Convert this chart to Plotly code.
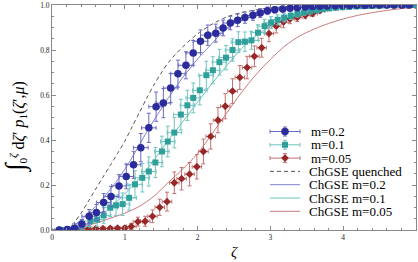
import plotly.graph_objects as go

# ---------------- data ----------------
# lattice data, m = 0.2
x_m02 = [0.10, 0.21, 0.31, 0.41, 0.51, 0.61, 0.71, 0.81, 0.92, 1.02, 1.12, 1.22, 1.33, 1.43, 1.53, 1.63,
         1.73, 1.84, 1.94, 2.04, 2.14, 2.25, 2.35, 2.45, 2.55, 2.65, 2.76, 2.86, 2.96, 3.06, 3.17, 3.27,
         3.37, 3.48, 3.58, 3.68, 3.78, 3.89, 3.99, 4.09, 4.19, 4.30, 4.40, 4.50, 4.60, 4.70, 4.81, 4.91]
y_m02 = [0.000, 0.002, 0.008, 0.027, 0.061, 0.078, 0.122, 0.149, 0.196, 0.238, 0.290, 0.366, 0.454, 0.548, 0.564, 0.631,
         0.695, 0.732, 0.787, 0.839, 0.866, 0.875, 0.898, 0.920, 0.932, 0.944, 0.954, 0.964, 0.975, 0.979, 0.982, 0.986,
         0.988, 0.991, 0.993, 0.995, 0.996, 0.997, 0.998, 0.998, 0.999, 0.999, 1.000, 1.000, 1.000, 1.000, 1.000, 1.000]
ey_m02 = [0.004, 0.005, 0.008, 0.020, 0.030, 0.035, 0.040, 0.045, 0.050, 0.055, 0.060, 0.063, 0.065, 0.065, 0.065, 0.065,
          0.060, 0.060, 0.055, 0.050, 0.045, 0.040, 0.035, 0.030, 0.028, 0.025, 0.022, 0.020, 0.016, 0.014, 0.012, 0.010,
          0.009, 0.008, 0.007, 0.006, 0.005, 0.004, 0.004, 0.003, 0.003, 0.002, 0.002, 0.002, 0.001, 0.001, 0.001, 0.001]
ex_m02 = 0.10

# lattice data, m = 0.1
x_m01 = [0.14, 0.23, 0.32, 0.41, 0.53, 0.62, 0.71, 0.80, 0.88, 0.97, 1.06, 1.14, 1.24, 1.33, 1.42, 1.51,
         1.59, 1.68, 1.77, 1.86, 1.94, 2.03, 2.12, 2.21, 2.30, 2.39, 2.48, 2.56, 2.65, 2.74, 2.83, 2.92,
         3.01, 3.10, 3.19, 3.28, 3.37, 3.46, 3.55, 3.64, 3.72, 3.81, 3.90, 3.99, 4.08, 4.17, 4.26, 4.35,
         4.44, 4.53, 4.62, 4.70, 4.79, 4.88, 4.97]
y_m01 = [0.000, 0.002, 0.006, 0.016, 0.040, 0.046, 0.065, 0.099, 0.110, 0.115, 0.143, 0.203, 0.232, 0.260, 0.300, 0.349,
         0.393, 0.433, 0.513, 0.554, 0.587, 0.621, 0.688, 0.710, 0.746, 0.766, 0.800, 0.835, 0.837, 0.843, 0.877, 0.906,
         0.922, 0.934, 0.944, 0.952, 0.960, 0.966, 0.972, 0.977, 0.981, 0.985, 0.988, 0.990, 0.992, 0.994, 0.995, 0.996,
         0.997, 0.998, 0.999, 0.999, 1.000, 1.000, 1.000]
ey_m01 = [0.003, 0.005, 0.008, 0.015, 0.025, 0.030, 0.035, 0.040, 0.045, 0.050, 0.055, 0.060, 0.063, 0.065, 0.067, 0.068,
          0.068, 0.068, 0.068, 0.067, 0.066, 0.065, 0.062, 0.060, 0.057, 0.054, 0.050, 0.046, 0.043, 0.040, 0.035, 0.030,
          0.026, 0.022, 0.019, 0.016, 0.014, 0.012, 0.010, 0.009, 0.008, 0.007, 0.006, 0.005, 0.004, 0.004, 0.003, 0.003,
          0.002, 0.002, 0.002, 0.001, 0.001, 0.001, 0.001]
ex_m01 = 0.10

# lattice data, m = 0.05
x_m005 = [0.10, 0.20, 0.30, 0.39, 0.50, 0.60, 0.70, 0.80, 0.90, 1.00, 1.09, 1.18, 1.28, 1.38, 1.48, 1.58,
          1.68, 1.78, 1.89, 1.99, 2.08, 2.18, 2.28, 2.38, 2.48, 2.58, 2.68, 2.78, 2.88, 2.98, 3.08, 3.18,
          3.27, 3.37, 3.48, 3.58, 3.68, 3.78, 3.89, 3.99, 4.09, 4.19, 4.29, 4.39, 4.49, 4.59, 4.69, 4.79,
          4.89, 4.99]
y_m005 = [0.000, 0.001, 0.003, 0.004, 0.005, 0.006, 0.006, 0.007, 0.008, 0.008, 0.016, 0.037, 0.039, 0.061, 0.101, 0.126,
          0.210, 0.228, 0.248, 0.281, 0.349, 0.416, 0.488, 0.550, 0.617, 0.678, 0.722, 0.772, 0.810, 0.873, 0.906, 0.924,
          0.938, 0.945, 0.954, 0.962, 0.975, 0.987, 0.991, 0.993, 0.995, 0.996, 0.997, 0.998, 0.998, 0.999, 0.999, 1.000,
          1.000, 1.000]
ey_m005 = [0.002, 0.002, 0.003, 0.004, 0.005, 0.006, 0.006, 0.007, 0.008, 0.010, 0.013, 0.020, 0.022, 0.028, 0.036, 0.042,
           0.048, 0.050, 0.052, 0.054, 0.055, 0.056, 0.056, 0.056, 0.055, 0.053, 0.050, 0.046, 0.042, 0.036, 0.030, 0.025,
           0.021, 0.018, 0.015, 0.012, 0.010, 0.008, 0.006, 0.005, 0.004, 0.003, 0.003, 0.002, 0.002, 0.002, 0.001, 0.001,
           0.001, 0.001]
ex_m005 = 0.065

# ChGSE theory curves
x_q = [0.0, 0.1, 0.2, 0.3, 0.4, 0.5, 0.6, 0.7, 0.8, 0.9, 1.0, 1.1, 1.2, 1.3, 1.4, 1.5, 1.6, 1.7, 1.8, 1.9,
       2.0, 2.2, 2.4, 2.6, 2.8, 3.0, 3.25, 3.5, 4.0, 4.5, 5.0]
y_q = [0.0, 0.0, 0.006, 0.032, 0.075, 0.128, 0.182, 0.235, 0.287, 0.340, 0.395, 0.458, 0.522, 0.585, 0.645, 0.698,
       0.745, 0.782, 0.815, 0.845, 0.872, 0.915, 0.947, 0.966, 0.978, 0.987, 0.993, 0.996, 0.999, 1.0, 1.0]

x_t02 = [0.0, 0.1, 0.2, 0.3, 0.4, 0.5, 0.6, 0.7, 0.8, 0.9, 1.0, 1.1, 1.2, 1.3, 1.4, 1.5, 1.6, 1.7, 1.8, 1.9,
         2.0, 2.1, 2.2, 2.3, 2.4, 2.5, 2.6, 2.8, 3.0, 3.25, 3.5, 4.0, 4.5, 5.0]
y_t02 = [0.0, 0.0, 0.005, 0.02, 0.045, 0.075, 0.105, 0.14, 0.18, 0.222, 0.27, 0.322, 0.378, 0.435, 0.488, 0.538,
         0.588, 0.635, 0.68, 0.72, 0.76, 0.795, 0.83, 0.865, 0.895, 0.92, 0.94, 0.965, 0.98, 0.99, 0.995, 0.999, 1.0, 1.0]

x_t01 = [0.0, 0.2, 0.4, 0.6, 0.8, 1.0, 1.2, 1.4, 1.6, 1.8, 2.0, 2.2, 2.4, 2.6, 2.8, 3.0, 3.2, 3.5, 4.0, 4.5, 5.0]
y_t01 = [0.0, 0.002, 0.015, 0.045, 0.100, 0.160, 0.230, 0.310, 0.400, 0.482, 0.568, 0.652, 0.730, 0.805, 0.862,
         0.905, 0.935, 0.965, 0.988, 0.997, 1.0]

x_t005 = [0.0, 0.2, 0.4, 0.6, 0.8, 1.0, 1.2, 1.4, 1.6, 1.8, 2.0, 2.2, 2.4, 2.6, 2.8, 3.0, 3.2, 3.4, 3.6, 3.8,
          4.0, 4.2, 4.4, 4.6, 4.8, 5.0]
y_t005 = [0.0, 0.001, 0.012, 0.030, 0.052, 0.075, 0.105, 0.150, 0.212, 0.272, 0.340, 0.428, 0.520, 0.610, 0.690,
          0.758, 0.818, 0.862, 0.893, 0.918, 0.938, 0.954, 0.966, 0.976, 0.984, 0.990]

legend_labels = ["m=0.2", "m=0.1", "m=0.05", "ChGSE quenched", "ChGSE m=0.2", "ChGSE m=0.1", "ChGSE m=0.05"]
x_ticks = [0, 1, 2, 3, 4, 5]
y_ticks = [0.0, 0.2, 0.4, 0.6, 0.8, 1.0]
x_title = "<i>ζ</i>"
y_title = ('<span style="font-size:27px">∫</span><sub>0</sub><sup><i>ζ</i></sup> d<i>ζ</i>′ '
           '<i>p</i><sub>1</sub>(<i>ζ</i>′,<i>μ</i>)')

# ---------------- styles ----------------
C_BLUE, C_BLUE_E, C_BLUE_L = "#2b2b9c", "#6a6ac4", "#7070d0"
C_TEAL, C_TEAL_E, C_TEAL_L = "#2f9f9b", "#70c4c0", "#55bbb6"
C_RED, C_RED_E, C_RED_L = "#982828", "#c47070", "#c46a6a"
C_DASH = "#444444"
SERIF = "Liberation Serif, Times New Roman, serif"

fig = go.Figure()

def theory(x, y, color, dash="solid", width=0.9):
    fig.add_trace(go.Scatter(x=x, y=y, mode="lines", line=dict(color=color, width=width, dash=dash, shape="spline", smoothing=0.8),
                             showlegend=False, hoverinfo="skip"))

theory(x_q, y_q, C_DASH, dash="4px,3px", width=0.9)
theory(x_t02, y_t02, C_BLUE_L)
theory(x_t01, y_t01, C_TEAL_L)
theory(x_t005, y_t005, C_RED_L)

def data(x, y, ex, ey, color, ecolor, symbol, size):
    fig.add_trace(go.Scatter(
        x=x, y=y, mode="markers",
        marker=dict(color=color, symbol=symbol, size=size, line=dict(width=0)),
        error_x=dict(type="constant", value=ex, color=ecolor, thickness=1, width=2),
        error_y=dict(type="data", array=ey, color=ecolor, thickness=1, width=2),
        showlegend=False))

data(x_m005, y_m005, ex_m005, ey_m005, C_RED, C_RED_E, "diamond", 6)
data(x_m01, y_m01, ex_m01, ey_m01, C_TEAL, C_TEAL_E, "square", 6)
data(x_m02, y_m02, ex_m02, ey_m02, C_BLUE, C_BLUE_E, "circle", 7.5)

# ---------------- manual legend (overlay axes in plot-area units) ----------------
L, R, T, B = 52, 2, 5, 32
W, H = 418, 262
pw, ph = W - L - R, H - T - B
row_px = [131.5, 144.8, 158.1, 171.4, 184.7, 198.0, 211.3]
def py(p):
    return (H - B - p) / ph
def px(p):
    return (p - L) / pw

g0, g1, gc = px(270), px(300), px(285)
glyphs = [(C_BLUE, C_BLUE_E, "circle", 7.5), (C_TEAL, C_TEAL_E, "square", 6), (C_RED, C_RED_E, "diamond", 6)]
for i, (c, ec, sym, sz) in enumerate(glyphs):
    fig.add_trace(go.Scatter(
        x=[gc], y=[py(row_px[i])], xaxis="x2", yaxis="y2", mode="markers",
        marker=dict(color=c, symbol=sym, size=sz, line=dict(width=0)),
        error_x=dict(type="constant", value=(g1 - g0) / 2, color=ec, thickness=1, width=2),
        error_y=dict(type="constant", value=4.5 / ph, color=ec, thickness=1, width=2),
        showlegend=False, hoverinfo="skip"))

line_styles = [(C_DASH, "4px,3px"), (C_BLUE_L, "solid"), (C_TEAL_L, "solid"), (C_RED_L, "solid")]
shapes = []
for j, (c, d) in enumerate(line_styles):
    yy = py(row_px[3 + j])
    shapes.append(dict(type="line", xref="x2", yref="y2", x0=g0, x1=g1, y0=yy, y1=yy,
                       line=dict(color=c, width=0.9, dash=d)))

annotations = []
for i, lab in enumerate(legend_labels):
    xt = px(309) if i < 3 else px(307)
    annotations.append(dict(x=xt, y=py(row_px[i]), xref="paper", yref="paper", text=lab, showarrow=False,
                            xanchor="left", yanchor="middle", font=dict(family=SERIF, size=13, color="black")))

# axis titles placed as annotations
annotations.append(dict(x=px(234), y=py(252), xref="paper", yref="paper", text=x_title, showarrow=False,
                        xanchor="center", yanchor="middle", font=dict(family=SERIF, size=15, color="black")))
annotations.append(dict(x=px(16), y=py(127), xref="paper", yref="paper", text=y_title, showarrow=False,
                        textangle=-90, xanchor="center", yanchor="middle",
                        font=dict(family=SERIF, size=16, color="black")))

axis_common = dict(showgrid=False, zeroline=False, showline=True, linecolor="#888888", linewidth=0.8,
                   mirror="ticks", ticks="inside", ticklen=4, tickwidth=0.7, tickcolor="#888888",
                   automargin=False, tickfont=dict(family=SERIF, size=7.5, color="#222"))

fig.update_layout(
    width=W, height=H,
    margin=dict(l=L, r=R, t=T, b=B),
    paper_bgcolor="white", plot_bgcolor="white",
    showlegend=False,
    xaxis=dict(range=[0, 5], tickvals=x_ticks, ticktext=[str(v) for v in x_ticks],
               minor=dict(dtick=0.2, ticks="inside", ticklen=2, tickcolor="#888888", tickwidth=0.6),
               **axis_common),
    yaxis=dict(range=[0, 1], tickvals=y_ticks, ticktext=[f"{v:.1f}" for v in y_ticks],
               minor=dict(dtick=0.05, ticks="inside", ticklen=2, tickcolor="#888888", tickwidth=0.6),
               **axis_common),
    xaxis2=dict(overlaying="x", range=[0, 1], visible=False, fixedrange=True),
    yaxis2=dict(overlaying="y", range=[0, 1], visible=False, fixedrange=True, anchor="x2"),
    shapes=shapes,
    annotations=annotations,
)

fig.write_html("out.html", config={"displayModeBar": False},
               post_script="document.body.style.margin='0';document.body.style.padding='0';")
